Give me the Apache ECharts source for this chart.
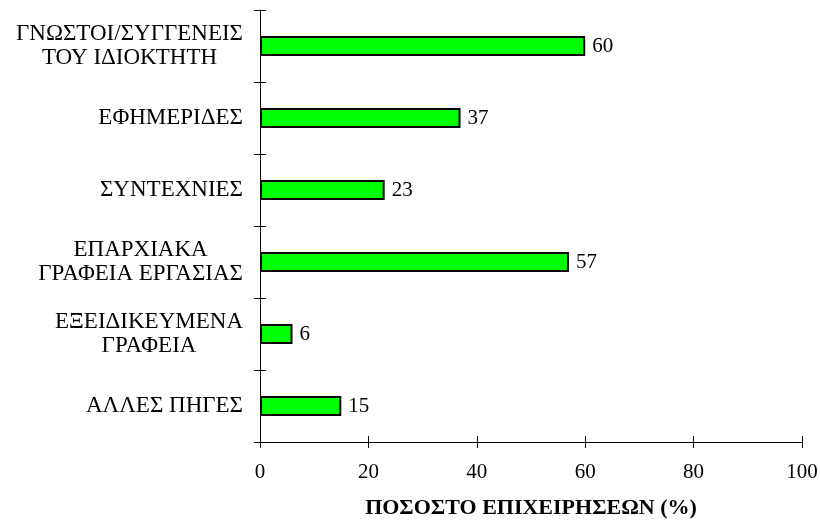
<!DOCTYPE html>
<html>
<head>
<meta charset="utf-8">
<script src="https://cdn.jsdelivr.net/npm/echarts@6/dist/echarts.min.js"></script>
<style>
  html, body { margin: 0; padding: 0; background: #fff; }
  #chart { width: 820px; height: 522px; }
</style>
</head>
<body>
<div id="chart"></div>
<script>
// Sources of recruitment, share of businesses (%)
const categories = [
  'ΓΝΩΣΤΟΙ/ΣΥΓΓΕΝΕΙΣ\nΤΟΥ ΙΔΙΟΚΤΗΤΗ',
  'ΕΦΗΜΕΡΙΔΕΣ',
  'ΣΥΝΤΕΧΝΙΕΣ',
  'ΕΠΑΡΧΙΑΚΑ\nΓΡΑΦΕΙΑ ΕΡΓΑΣΙΑΣ',
  'ΕΞΕΙΔΙΚΕΥΜΕΝΑ\nΓΡΑΦΕΙΑ',
  'ΑΛΛΕΣ ΠΗΓΕΣ'
];
const values = [60, 37, 23, 57, 6, 15];
const xTicks = [0, 20, 40, 60, 80, 100];
const xTitle = 'ΠΟΣΟΣΤΟ ΕΠΙΧΕΙΡΗΣΕΩΝ (%)';

const serif = '"Liberation Serif", "Times New Roman", serif';
const black = '#000';

const chart = echarts.init(document.getElementById('chart'), null, { renderer: 'canvas' });

// Category labels: block right-aligned to the axis, lines centred in the block
const catLabel = {
  show: true,
  margin: 17,
  align: 'right',
  color: black,
  fontFamily: serif,
  fontSize: 23,
  lineHeight: 24,
  formatter: function (v) {
    return v.split('\n').map(function (s) { return '{c|' + s + '}'; }).join('\n');
  },
  rich: {
    c: { align: 'center', fontFamily: serif, fontSize: 23, lineHeight: 24, color: black }
  }
};

chart.setOption({
  animation: false,
  backgroundColor: '#fff',
  grid: { left: 260, right: 18, top: 10, bottom: 80, containLabel: false, outerBoundsMode: 'none' },
  xAxis: [
    {
      type: 'value',
      min: xTicks[0],
      max: xTicks[xTicks.length - 1],
      interval: 20,
      axisLine: { show: true, lineStyle: { color: black, width: 1 } },
      axisTick: { show: true, inside: false, length: 6, lineStyle: { color: black } },
      splitLine: { show: false },
      axisLabel: { margin: 20, color: black, fontFamily: serif, fontSize: 21 },
      name: xTitle,
      nameLocation: 'middle',
      nameGap: 55,
      nameTextStyle: { fontFamily: serif, fontSize: 22, fontWeight: 'bold', color: black }
    },
    {
      type: 'value',
      position: 'bottom',
      min: xTicks[0],
      max: xTicks[xTicks.length - 1],
      interval: 20,
      axisLine: { show: false },
      axisTick: { show: true, inside: true, length: 6, lineStyle: { color: black } },
      splitLine: { show: false },
      axisLabel: { show: false }
    }
  ],
  yAxis: [
    {
      type: 'category',
      data: categories,
      inverse: true,
      axisLine: { show: true, lineStyle: { color: black, width: 1 } },
      axisTick: { show: true, inside: false, length: 6, lineStyle: { color: black } },
      axisLabel: catLabel
    },
    {
      type: 'category',
      data: categories,
      inverse: true,
      position: 'left',
      axisLine: { show: false },
      axisTick: { show: true, inside: true, length: 6, lineStyle: { color: black } },
      axisLabel: { show: false }
    }
  ],
  series: [
    {
      type: 'bar',
      xAxisIndex: 0,
      yAxisIndex: 0,
      data: values,
      barWidth: 20,
      itemStyle: { color: '#00ff00', borderColor: black, borderWidth: 2 },
      label: {
        show: true,
        position: 'right',
        distance: 7,
        color: black,
        fontFamily: serif,
        fontSize: 21
      }
    }
  ]
});
</script>
</body>
</html>
